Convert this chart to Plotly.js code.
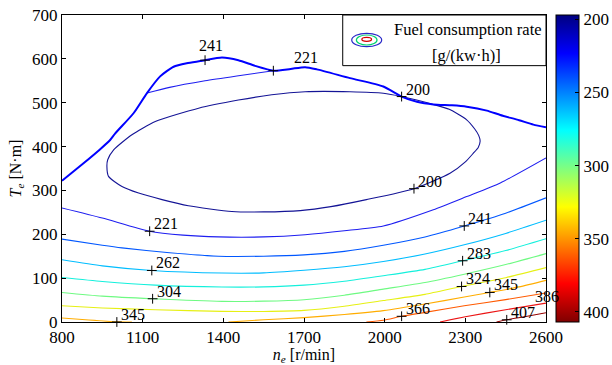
<!DOCTYPE html>
<html><head><meta charset="utf-8">
<script src="https://cdn.plot.ly/plotly-3.0.1.min.js"></script>
<style>body{margin:0;background:#fff}#chart{width:612px;height:365px}</style>
</head><body><div id="chart"></div>
<script>
// ---- axis ticks ----
const speedTicks = [800,1100,1400,1700,2000,2300,2600];
const torqueTicks = [0,100,200,300,400,500,600,700];
const barTicks = [200,250,300,350,400];

// ---- max torque curve ----
const maxTorqueX = [800,880,940,979,998,1066,1116,1165,1215,1264,1314,1332,1395,1456,1518,1586,1650,1704,1748,1871,1995,2063,2120,2181,2250,2305,2380,2430,2500,2553,2600];
const maxTorqueY = [322,362,393,415,430,476,522,560,582,590,595,597,603,597,584,573,577,581,576,556,537,514,502,496,494,491,482,472,460,450,444];

// ---- fuel consumption contour lines (g/(kW·h)) ----
const c200X = [967,970,992,1060,1147,1308,1456,1580,1704,1871,1995,2063,2181,2240,2305,2335,2350,2355,2348,2330,2300,2243,2109,1932,1800,1686,1550,1432,1270,1172,1085,1023,973,967];
const c200Y = [355,370,392.5,427,457,487.5,506,518,525,525,521.6,514,496,485,461,440,425,412,398,385,365,339,304,279,263,254,251,252,265,279,294,309,332,355];
const c221TopX = [1116,1200,1332,1450,1586];
const c221TopY = [522,535,550,561,573];
const c221X = [800,950,1125,1250,1382,1550,1704,1850,1995,2181,2305,2430,2600];
const c221Y = [260,237,207,198,194,194,199,208,219,256,286,317,374];
const c241X = [800,950,1023,1200,1382,1550,1700,1850,1995,2150,2296,2450,2600];
const c241Y = [189,175,169,158,150,150,153,161,175,194,219,248,283];
const c262X = [800,950,1134,1395,1550,1700,1850,1995,2150,2296,2450,2600];
const c262Y = [142,128,117.5,111.6,112,118,126,138,155,176,202,232];
const c283X = [800,950,1147,1395,1550,1700,1850,1995,2150,2290,2450,2600];
const c283Y = [101.6,92.5,84,79.7,80,84,93,105.5,120,139.6,163,190];
const c304X = [800,950,1137,1395,1550,1700,1850,1995,2150,2296,2450,2600];
const c304Y = [67.4,59,53,47,47.5,50.8,61,75,90,109,131,156];
const c324X = [800,950,1147,1395,1550,1700,1850,1995,2150,2286,2450,2600];
const c324Y = [37,32,28,24.2,24,26.4,36,49,63,81,101,124];
const c345LeftX = [800,900,1004,1060];
const c345LeftY = [9,4.5,0.5,0];
const c345X = [1419,1550,1700,1850,1995,2150,2296,2391,2500,2600];
const c345Y = [0,5,10,17,26,41,57,67.4,80,95];
const c366X = [1932,1995,2063,2150,2296,2450,2600];
const c366Y = [0,4,13,22,37,51,66];
const c386X = [2206,2300,2450,2600];
const c386Y = [0,12,28,43];
const c407X = [2416,2454,2530,2600];
const c407Y = [0,5,13,21];

// ---- contour labels ----
const labelX = [1332,1586,2063,2109,1126,2296,1134,2290,1137,2286,2391,1004,2063,2454];
const labelY = [597,573,514,304,207,219,117.5,139.6,53,81,67.4,0,13,5];
const labelText = ['241','221','200','200','221','241','262','283','304','324','345','345','366','407'];
const edgeLabelX = [2551];
const edgeLabelY = [40];
const edgeLabelText = ['386'];

const FONT = 'Liberation Serif, Times New Roman, serif';

const contourSets = [
  [c200X, c200Y, 'rgb(20,20,150)'],
  [c221TopX, c221TopY, 'rgb(30,30,240)'],
  [c221X, c221Y, 'rgb(30,30,240)'],
  [c241X, c241Y, 'rgb(0,87,255)'],
  [c262X, c262Y, 'rgb(0,189,255)'],
  [c283X, c283Y, 'rgb(20,240,220)'],
  [c304X, c304Y, 'rgb(110,250,130)'],
  [c324X, c324Y, 'rgb(230,240,20)'],
  [c345LeftX, c345LeftY, 'rgb(255,173,0)'],
  [c345X, c345Y, 'rgb(255,173,0)'],
  [c366X, c366Y, 'rgb(255,90,0)'],
  [c386X, c386Y, 'rgb(235,20,20)'],
  [c407X, c407Y, 'rgb(150,0,0)']
];

const traces = contourSets.map(([x, y, c]) => ({
  type:'scatter', mode:'lines', x:x, y:y,
  line:{color:c, width:1.1, shape:'spline', smoothing:0.6},
  hoverinfo:'skip'
}));

traces.push({
  type:'scatter', mode:'lines', x:maxTorqueX, y:maxTorqueY,
  line:{color:'rgb(0,0,255)', width:2, shape:'spline', smoothing:0.6},
  hoverinfo:'skip'
});

traces.push({
  type:'scatter', mode:'markers', x:labelX, y:labelY, cliponaxis:false,
  marker:{symbol:'cross-thin', size:7, line:{color:'#000', width:1}},
  hoverinfo:'skip'
});

// colour bar (reversed: 200 at top)
const jetRev = [[0,'#800000'],[0.125,'#ff0000'],[0.375,'#ffff00'],[0.625,'#00ffff'],[0.875,'#0000ff'],[1,'#000080']];
traces.push({
  type:'scatter', mode:'markers', x:[800], y:[0],
  marker:{size:1, opacity:0, color:[-300], cmin:-407, cmax:-197, colorscale:jetRev, showscale:true,
    colorbar:{x:1.0207, xanchor:'left', y:0.5, yanchor:'middle', len:1, lenmode:'fraction',
      thickness:23, thicknessmode:'pixels', xpad:0, ypad:0, outlinewidth:1, outlinecolor:'#000',
      ticks:'inside', ticklen:4, tickcolor:'#000',
      tickvals:barTicks.map(v => -v), ticktext:barTicks.map(String),
      tickfont:{family:FONT, size:17, color:'#000'}}},
  hoverinfo:'skip'
});

// text offsets (px) for the two labels sitting on the max-torque curve top
const specialShift = {0:[-8, 4], 1:[19, 3]};
const annotations = labelX.map((x, i) => {
  const s = specialShift[i] || [2, -3];
  return {
    x:x, y:labelY[i], text:labelText[i], showarrow:false,
    xanchor:'left', yanchor:'bottom', xshift:s[0], yshift:s[1],
    font:{family:FONT, size:16, color:'#000'}
  };
});
edgeLabelX.forEach((x, i) => annotations.push({
  x:x, y:edgeLabelY[i], text:edgeLabelText[i], showarrow:false,
  xanchor:'left', yanchor:'bottom', xshift:0, yshift:-3,
  font:{family:FONT, size:16, color:'#000'}
}));
annotations.push({xref:'paper', yref:'paper', x:0.8387, y:0.9534, text:'Fuel consumption rate', showarrow:false,
  xanchor:'center', yanchor:'middle', font:{family:FONT, size:16.5, color:'#000'}});
annotations.push({xref:'paper', yref:'paper', x:0.836, y:0.8697, text:'[g/(kw·h)]', showarrow:false,
  xanchor:'center', yanchor:'middle', font:{family:FONT, size:16.5, color:'#000'}});

const shapes = [
  {type:'rect', xref:'paper', yref:'paper', x0:0.58, x1:1.0, y0:0.835, y1:1.0,
   line:{color:'#000', width:1}, fillcolor:'#fff', layer:'above'},
  {type:'circle', xref:'paper', yref:'paper', x0:0.5986, x1:0.6605, y0:0.8967, y1:0.9404,
   line:{color:'rgb(40,40,200)', width:1.2}, layer:'above'},
  {type:'circle', xref:'paper', yref:'paper', x0:0.6082, x1:0.6509, y0:0.9023, y1:0.9349,
   line:{color:'rgb(0,210,110)', width:1.2}, layer:'above'},
  {type:'circle', xref:'paper', yref:'paper', x0:0.6195, x1:0.6396, y0:0.9143, y1:0.9272,
   line:{color:'rgb(210,0,0)', width:1.2}, layer:'above'}
];

const axisCommon = {
  ticks:'inside', ticklen:4, tickcolor:'#000', tickwidth:1,
  showline:true, linecolor:'#000', linewidth:1, mirror:'ticks',
  showgrid:false, zeroline:false, tickfont:{family:FONT, size:17, color:'#000'}
};

const layout = {
  width:612, height:365,
  margin:{l:62, r:66, t:15, b:43, autoexpand:false},
  paper_bgcolor:'#fff', plot_bgcolor:'#fff',
  font:{family:FONT, size:16, color:'#000'},
  showlegend:false,
  xaxis:Object.assign({}, axisCommon, {range:[800,2600], tickvals:speedTicks,
    title:{text:'<i>n<sub>e</sub></i> [r/min]', font:{family:FONT, size:16, color:'#000'}, standoff:3}}),
  yaxis:Object.assign({}, axisCommon, {range:[0,700], tickvals:torqueTicks,
    title:{text:'<i>T<sub>e</sub></i> [N·m]', font:{family:FONT, size:16, color:'#000'}, standoff:6}}),
  shapes:shapes,
  annotations:annotations
};

Plotly.newPlot('chart', traces, layout, {displayModeBar:false, staticPlot:true});
</script>
</body></html>
